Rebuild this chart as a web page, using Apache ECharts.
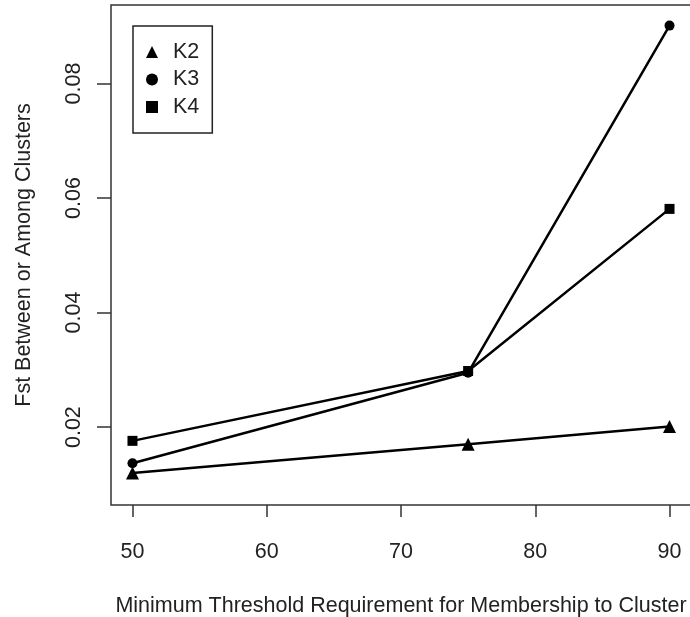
<!DOCTYPE html>
<html>
<head>
<meta charset="utf-8">
<script src="https://cdn.jsdelivr.net/npm/echarts@6/dist/echarts.min.js"></script>
<style>
  html, body { margin: 0; padding: 0; background: #ffffff; }
  #chart { width: 690px; height: 617px; }
</style>
</head>
<body>
<div id="chart"></div>
<script>
// Membership threshold (%) on the x axis
const thresholds = [50, 75, 90];
// Fst between or among clusters for each K
const k2Values = [0.0120, 0.0170, 0.0201];
const k3Values = [0.0137, 0.0295, 0.0901];
const k4Values = [0.0176, 0.0298, 0.0581];

const xTicks = [50, 60, 70, 80, 90];
const yTicks = [0.02, 0.04, 0.06, 0.08];

const seriesNames = ['K2', 'K3', 'K4'];
const seriesSymbols = ['triangle', 'circle', 'rect'];
const seriesSizes = [13, 10, 10];
const seriesValues = [k2Values, k3Values, k4Values];

const FONT = '"Liberation Sans", Arial, sans-serif';
const INK = '#222222';

const chart = echarts.init(document.getElementById('chart'), null, { renderer: 'canvas' });

const series = seriesNames.map((name, i) => ({
  name: name,
  type: 'line',
  data: thresholds.map((t, j) => [t, seriesValues[i][j]]),
  symbol: seriesSymbols[i],
  symbolSize: seriesSizes[i],
  showAllSymbol: true,
  lineStyle: { color: '#000', width: 2.5 },
  itemStyle: { color: '#000', borderWidth: 0 },
  emphasis: { disabled: true },
  animation: false
}));

chart.setOption({
  animation: false,
  backgroundColor: '#ffffff',
  grid: {
    show: true,
    left: 111,
    top: 5,
    width: 580,
    height: 500,
    outerBoundsMode: 'none',
    containLabel: false,
    borderColor: '#333',
    borderWidth: 1.5,
    backgroundColor: 'transparent'
  },
  legend: {
    orient: 'vertical',
    left: 133,
    top: 26,
    padding: [15, 13, 15, 13],
    borderColor: '#222',
    borderWidth: 1.5,
    itemWidth: 12,
    itemHeight: 12,
    itemGap: 5.5,
    selectedMode: false,
    data: seriesNames.map((n, i) => ({ name: n, icon: seriesSymbols[i] })),
    textStyle: {
      fontFamily: FONT,
      fontSize: 21.5,
      lineHeight: 22,
      color: INK,
      padding: [0, 0, 0, 10]
    }
  },
  xAxis: {
    type: 'value',
    min: 48.4,
    max: 91.6,
    name: 'Minimum Threshold Requirement for Membership to Cluster',
    nameLocation: 'middle',
    nameGap: 90,
    nameTextStyle: { fontFamily: FONT, fontSize: 21.5, color: INK },
    splitLine: { show: false },
    axisLine: { show: false },
    axisTick: {
      show: true,
      inside: false,
      length: 12,
      customValues: xTicks,
      lineStyle: { color: '#333', width: 1.5 }
    },
    axisLabel: {
      customValues: xTicks,
      margin: 36,
      fontFamily: FONT,
      fontSize: 21.5,
      color: INK
    }
  },
  yAxis: {
    type: 'value',
    min: 0.0064,
    max: 0.0937,
    name: 'Fst Between or Among Clusters',
    nameLocation: 'middle',
    nameGap: 76,
    nameRotate: 90,
    nameTextStyle: { fontFamily: FONT, fontSize: 21.5, color: INK },
    splitLine: { show: false },
    axisLine: { show: false },
    axisTick: {
      show: true,
      inside: false,
      length: 14,
      customValues: yTicks,
      lineStyle: { color: '#333', width: 1.5 }
    },
    axisLabel: {
      customValues: yTicks,
      rotate: 90,
      margin: 26,
      fontFamily: FONT,
      fontSize: 21.5,
      color: INK,
      formatter: v => v.toFixed(2)
    }
  },
  series: series
});
</script>
</body>
</html>
